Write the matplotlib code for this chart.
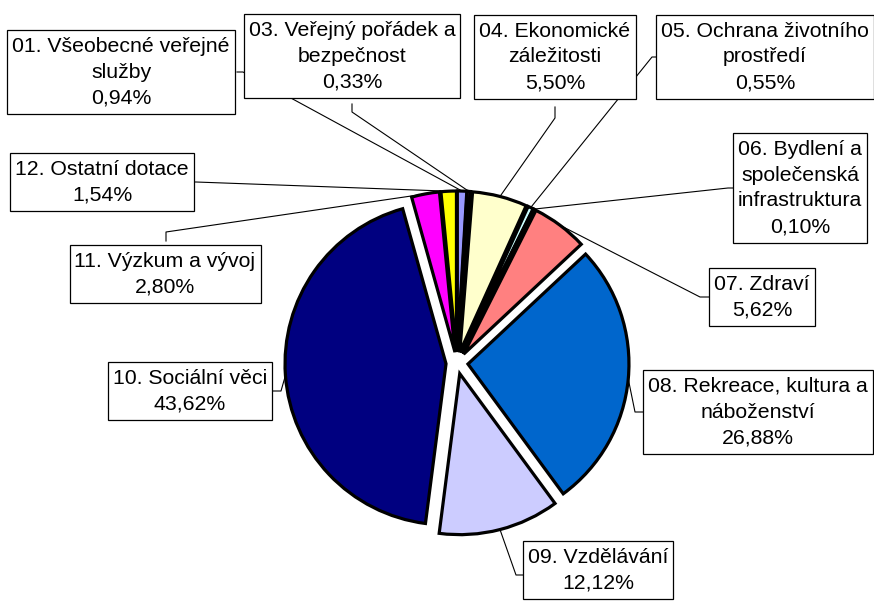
import matplotlib
matplotlib.use("Agg")
import matplotlib.pyplot as plt
from matplotlib.patches import Rectangle
import numpy as np

plt.rcParams['font.family'] = ['Liberation Sans', 'DejaVu Sans']

kategorie = ["01. Všeobecné veřejné\nslužby", "03. Veřejný pořádek a\nbezpečnost",
             "04. Ekonomické\nzáležitosti", "05. Ochrana životního\nprostředí",
             "06. Bydlení a\nspolečenská\ninfrastruktura", "07. Zdraví",
             "08. Rekreace, kultura a\nnáboženství", "09. Vzdělávání",
             "10. Sociální věci", "11. Výzkum a vývoj", "12. Ostatní dotace"]
podily = [0.94, 0.33, 5.50, 0.55, 0.10, 5.62, 26.88, 12.12, 43.62, 2.80, 1.54]
barvy = ["#9999FF", "#993366", "#FFFFCC", "#CCFFFF", "#660066", "#FF8080",
         "#0066CC", "#CCCCFF", "#000080", "#FF00FF", "#FFFF00"]

# umisteni popisku (stred boxu) a lomene vodici cary, v pixelech obrazku
popisky_xy = [(121, 72), (352, 56), (555, 57), (765, 57), (800, 188), (762, 297),
              (758, 412), (598, 570), (190, 391), (165, 274), (102, 182)]
kotvy = [[(237, 72), (243, 72)], [(352, 104), (352, 112)], [(555, 107), (555, 118)],
         [(657, 57), (652, 57)], [(733, 188), (728, 188)], [(711, 297), (700, 297)],
         [(645, 412), (635, 412)], [(524, 575), (516, 575)], [(273, 391), (281, 391)],
         [(166, 241), (166, 232)], [(193, 182), (196, 182)]]

W, H = 874, 603
fig = plt.figure(figsize=(W / 100, H / 100), dpi=100)
ax = fig.add_axes([0, 0, 1, 1])

stred = (457, 363)
r = 161
vysun = 11  # cely graf rozlozeny
wedges, _ = ax.pie(podily, colors=barvy, explode=[vysun] * len(podily),
                   startangle=-90, counterclock=True, radius=r, center=stred,
                   frame=True, wedgeprops=dict(edgecolor="black", linewidth=2.3))

ax.set_xlim(0, W)
ax.set_ylim(H, 0)
ax.set_aspect("equal")
ax.axis("off")

texty = []
for w, txt, val, (bx, by), k in zip(wedges, kategorie, podily, popisky_xy, kotvy):
    mid = np.deg2rad((w.theta1 + w.theta2) / 2)
    cx, cy = w.center
    ex = cx + r * np.cos(mid)
    ey = cy + r * np.sin(mid)
    xs = [p[0] for p in k] + [ex]
    ys = [p[1] for p in k] + [ey]
    ax.plot(xs, ys, color="black", lw=0.8, zorder=1)
    label = txt + "\n" + f"{val:.2f}".replace(".", ",") + "%"
    t = ax.text(bx, by, label, ha="center", va="center", fontsize=15.3,
                linespacing=1.46, zorder=6)
    texty.append(t)

fig.canvas.draw()
rend = fig.canvas.get_renderer()
inv = ax.transData.inverted()
for t in texty:
    bb = t.get_window_extent(rend)
    (x0, y0), (x1, y1) = inv.transform([[bb.x0, bb.y0], [bb.x1, bb.y1]])
    xa, xb = min(x0, x1) - 5, max(x0, x1) + 5
    ya, yb = min(y0, y1) - 7, max(y0, y1) + 7
    ax.add_patch(Rectangle((xa, ya), xb - xa, yb - ya, fc="white", ec="black",
                           lw=0.9, zorder=5))

fig.savefig("out.png", dpi=100)
